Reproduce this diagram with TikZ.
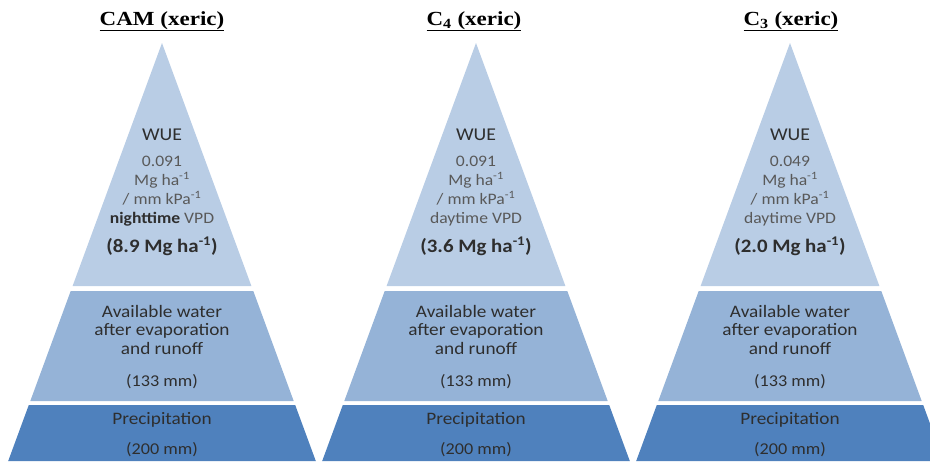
\documentclass[tikz,border=0pt]{standalone}
\usepackage{fontspec}
\setmainfont{Carlito}[FakeStretch=1.1]
\newfontfamily\titulofont{Liberation Serif}[FakeStretch=1.15]

\definecolor{nivelA}{HTML}{B9CDE5}
\definecolor{nivelB}{HTML}{95B3D7}
\definecolor{nivelC}{HTML}{4F81BD}
\definecolor{texto}{HTML}{2E2E2E}
\definecolor{gris}{HTML}{595959}

\begin{document}
\begin{tikzpicture}[
    x=1pt, y=-1pt,
    every node/.style={inner sep=0pt},
    titulo/.style={font=\titulofont\fontsize{20}{24}\selectfont\bfseries, text=black, anchor=base},
    wue/.style={font=\fontsize{18}{20}\selectfont, text=texto, anchor=base},
    dato/.style={font=\fontsize{16}{18.7}\selectfont, text=gris, align=center, anchor=base},
    valor/.style={font=\fontsize{19}{22}\selectfont\bfseries, text=texto, anchor=base},
    agua/.style={font=\fontsize{17.5}{18.5}\selectfont, text=texto, align=center, anchor=base},
    mm/.style={font=\fontsize{16.5}{18}\selectfont, text=texto, anchor=base}
]
\useasboundingbox (0,0) rectangle (930,461);
\clip (0,0) rectangle (930,461);

% Pirámides (niveles: WUE, agua disponible, precipitación)
\fill[nivelA] (162,43) -- (72.6,286) -- (251.4,286) -- cycle;
\fill[nivelB] (70.7,291) -- (253.3,291) -- (293.7,401) -- (30.3,401) -- cycle;
\fill[nivelC] (28.8,405) -- (295.2,405) -- (315.8,461) -- (8.2,461) -- cycle;

\fill[nivelA] (476,43) -- (386.6,286) -- (565.4,286) -- cycle;
\fill[nivelB] (384.7,291) -- (567.3,291) -- (607.7,401) -- (344.3,401) -- cycle;
\fill[nivelC] (342.8,405) -- (609.2,405) -- (629.8,461) -- (322.2,461) -- cycle;

\fill[nivelA] (790,43) -- (700.6,286) -- (879.4,286) -- cycle;
\fill[nivelB] (698.7,291) -- (881.3,291) -- (921.7,401) -- (658.3,401) -- cycle;
\fill[nivelC] (656.8,405) -- (923.2,405) -- (943.8,461) -- (636.2,461) -- cycle;

% Títulos
\node[titulo] (camT) at (162,25) {\underline{CAM (xeric)}};
\node[titulo] (cfourT) at (474,25) {\underline{C\textsubscript{4} (xeric)}};
\node[titulo] (cthreeT) at (791,25) {\underline{C\textsubscript{3} (xeric)}};

% CAM
\node[wue] (camW) at (162,140) {WUE};
\node[dato] (camD) at (162,223) {0.091\\Mg ha\textsuperscript{-1}\\/ mm kPa\textsuperscript{-1}\\\textcolor{texto}{\bfseries nighttime} VPD};
\node[valor] (camV) at (162,252) {(8.9 Mg ha\textsuperscript{-1})};
\node[agua] (camA) at (162,354) {Available water\\after evaporation\\and runoff};
\node[mm] (camM) at (162,386) {(133 mm)};
\node[agua] (camP) at (162,424) {Precipitation};
\node[mm] (camR) at (162,454) {(200 mm)};

% C4
\node[wue] (cfourW) at (476,140) {WUE};
\node[dato] (cfourD) at (476,223) {0.091\\Mg ha\textsuperscript{-1}\\/ mm kPa\textsuperscript{-1}\\daytime VPD};
\node[valor] (cfourV) at (476,252) {(3.6 Mg ha\textsuperscript{-1})};
\node[agua] (cfourA) at (476,354) {Available water\\after evaporation\\and runoff};
\node[mm] (cfourM) at (476,386) {(133 mm)};
\node[agua] (cfourP) at (476,424) {Precipitation};
\node[mm] (cfourR) at (476,454) {(200 mm)};

% C3
\node[wue] (cthreeW) at (790,140) {WUE};
\node[dato] (cthreeD) at (790,223) {0.049\\Mg ha\textsuperscript{-1}\\/ mm kPa\textsuperscript{-1}\\daytime VPD};
\node[valor] (cthreeV) at (790,252) {(2.0 Mg ha\textsuperscript{-1})};
\node[agua] (cthreeA) at (790,354) {Available water\\after evaporation\\and runoff};
\node[mm] (cthreeM) at (790,386) {(133 mm)};
\node[agua] (cthreeP) at (790,424) {Precipitation};
\node[mm] (cthreeR) at (790,454) {(200 mm)};

\end{tikzpicture}
\end{document}
